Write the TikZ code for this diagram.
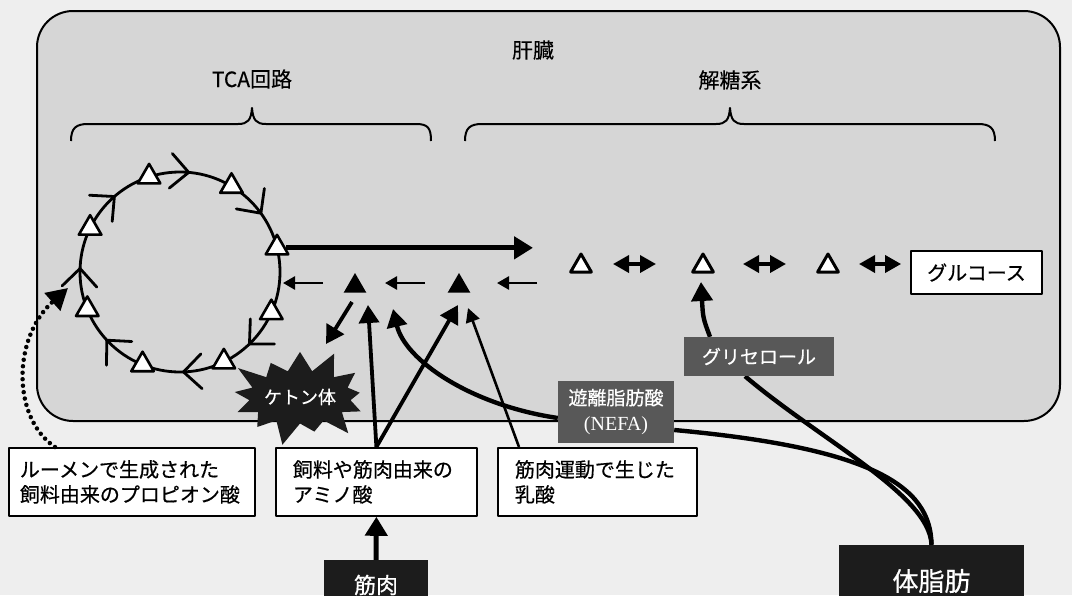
\documentclass[tikz,border=0pt]{standalone}
\usepackage{fontspec}
\setmainfont{Liberation Serif}
\newfontfamily\cjk[FakeBold=0.6]{Noto Sans CJK JP}
\newfontfamily\cjkl[FakeBold=0.3]{Noto Sans CJK JP}
\usetikzlibrary{arrows.meta,shapes.geometric,shapes.symbols,calc}
\pgfdeclarelayer{back}
\pgfdeclarelayer{mid}
\pgfsetlayers{back,mid,main}
\definecolor{paper}{RGB}{238,238,238}
\definecolor{liver}{RGB}{214,214,214}
\definecolor{midgray}{RGB}{88,88,88}
\definecolor{dark}{RGB}{28,28,28}
\begin{document}
\begin{tikzpicture}[x=1pt,y=-1pt,line join=round,
  lbl/.style={font=\cjkl\fontsize{21}{21}\selectfont,inner sep=0pt},
  wtri/.style={regular polygon,regular polygon sides=3,draw=black,fill=white,line width=2.6pt,inner sep=0pt,minimum size=26pt},
  gtri/.style={regular polygon,regular polygon sides=3,draw=black,fill=white,line width=3pt,inner sep=0pt,minimum size=24pt},
  btri/.style={regular polygon,regular polygon sides=3,fill=black,inner sep=0pt,minimum size=26pt},
  box/.style={draw=black,line width=1.8pt,fill=white,inner ysep=0pt,align=left,minimum height=68pt,font=\cjk\fontsize{20}{25}\selectfont,anchor=north west},
  darkbox/.style={fill=dark,text=white,inner sep=0pt},
  graybox/.style={fill=midgray,text=white,inner sep=0pt},
  thinarr/.style={line width=2.6pt,-{Triangle[length=12pt,width=13pt]}},
  medarr/.style={line width=3.8pt,-{Triangle[length=18pt,width=20pt]}},
  thickarr/.style={line width=5pt,-{Triangle[length=19pt,width=22pt]}},
  dblarr/.style={line width=3.6pt,{Triangle[length=16pt,width=17pt]}-{Triangle[length=16pt,width=17pt]}},
  bracepath/.style={line width=2pt},
  curvearr/.style={line width=4.4pt},
  chev/.style={line width=2.8pt,line cap=round}
]
\useasboundingbox (0,0) rectangle (1072,595);
\begin{pgfonlayer}{back}
\fill[paper] (0,0) rectangle (1072,595);
\draw[line width=2pt,fill=liver,rounded corners=36pt] (37,11) rectangle (1060,421);
\end{pgfonlayer}

% labels
\node[lbl] (liverlbl) at (533,50) {肝臓};
\node[lbl] (tcalbl) at (252,79) {TCA回路};
\node[lbl] (glylbl) at (730,80) {解糖系};

% braces
\draw[bracepath] (71,141) .. controls (71,128) and (76,124) .. (88,124) -- (238,124)
  .. controls (248,124) and (251,120) .. (252,108) .. controls (253,120) and (256,124) .. (266,124)
  -- (416,124) .. controls (428,124) and (431,128) .. (431,141);
\draw[bracepath] (465,141) .. controls (465,128) and (470,124) .. (482,124) -- (716,124)
  .. controls (726,124) and (729,120) .. (730,108) .. controls (731,120) and (734,124) .. (744,124)
  -- (978,124) .. controls (990,124) and (995,128) .. (995,141);

% TCA cycle
\coordinate (c) at (180,272);
\draw[line width=2.8pt] (c) circle[radius=100];
\foreach \a [count=\i] in {108,59,14,-24,-64,-112,-158,154}
  \node[wtri] (t\i) at ($(c)+(-\a:100)$) {};
\foreach \a in {85,36,-46,-88,-137,178,131}
  \draw[chev] ($(c)+(-\a:100)$) ++(-\a-90+44:25) -- ($(c)+(-\a:100)$) -- ++(-\a-90-44:25);

% glycolysis row
\node[gtri] (g1) at (581,266) {};
\node[gtri] (g2) at (703,266) {};
\node[gtri] (g3) at (828,266) {};
\node[draw=black,line width=1.8pt,fill=white,minimum width=131pt,minimum height=43pt,inner sep=0pt,font=\cjk\fontsize{20}{20}\selectfont] (glc) at (976.5,272.5) {グルコース};
\draw[dblarr] ($(g1)+(32,-2)$) -- ($(g2)+(-47,-2)$);
\draw[dblarr] ($(g2)+(40,-2)$) -- ($(g3)+(-42,-2)$);
\draw[dblarr] ($(g3)+(31,-2)$) -- ($(glc.west)+(-9,-8.5)$);

% TCA -> glycolysis
\coordinate (tcaend) at (533,0);
\draw[thickarr] (t3.east) -- (t3.east -| tcaend);

% black triangles and left arrows
\node[btri] (b1) at (355,286) {};
\node[btri] (b2) at (459,286) {};
\coordinate (a1s) at (323,283); \coordinate (a1e) at (283,283);
\coordinate (a2s) at (425,283); \coordinate (a2e) at (385,283);
\coordinate (a3s) at (537,283); \coordinate (a3e) at (497,283);
\draw[thinarr] (a1s) -- (a1e);
\draw[thinarr] (a2s) -- (a2e);
\draw[thinarr] (a3s) -- (a3e);

% boxes
\node[box,inner xsep=11pt,text width=224pt] (prop) at (8,447) {ルーメンで生成された\\飼料由来のプロピオン酸};
\node[box,inner xsep=17pt,text width=167pt] (amino) at (275,447) {飼料や筋肉由来の\\アミノ酸};
\node[box,inner xsep=17pt,text width=165pt] (lact) at (497,447) {筋肉運動で生じた\\乳酸};

\node[darkbox,minimum width=104pt,minimum height=50pt,font=\cjk\fontsize{22}{22}\selectfont] (muscle) at (376,585) {筋肉};
\node[darkbox,minimum width=185pt,minimum height=72pt,font=\cjk\fontsize{26}{26}\selectfont] (fat) at (931.5,581) {体脂肪};
\node[graybox,minimum width=150pt,minimum height=39pt,font=\cjk\fontsize{19}{19}\selectfont] (glyc) at (759,356.5) {グリセロール};
\node[graybox,minimum width=116pt,minimum height=62pt,align=center,font=\cjk\fontsize{19}{26}\selectfont] (nefa) at (616,412) {遊離脂肪酸\\{\rmfamily\fontsize{20}{26}\selectfont (NEFA)}};

% ketone bodies
\node[starburst,fill=dark,text=white,starburst points=13,starburst point height=26pt,inner sep=0pt,minimum width=145pt,minimum height=105pt,font=\cjk\fontsize{18}{18}\selectfont] (ket) at (300,397) {ケトン体};

% arrows from amino acids etc.
\coordinate (b1out) at (352,302); \coordinate (ketin) at (326,344);
\draw[medarr] (b1out) -- (ketin);
\draw[thickarr] (muscle.north) -- (amino.south);
\coordinate (amA) at (368,305);
\coordinate (amB) at (458,305);
\draw[medarr] (amino.north) -- (amA);
\draw[medarr] (amino.north) -- (amB);
\coordinate (lacs) at ($(lact.north west)+(22,0)$);
\coordinate (lace) at (468,308);
\draw[thinarr,-{Triangle[length=14pt,width=14pt]}] (lacs) -- (lace);

% dotted propionate arrow
\coordinate (pst) at ($(prop.north west)+(47,0)$);
\coordinate (pend) at (68,288);
\draw[line width=4.5pt,line cap=round,dash pattern=on 0pt off 6.5pt,-{Triangle[length=21pt,width=23pt]}]
  (pst) .. controls (12,418) and (12,338) .. (pend);

% curves from body fat
\begin{pgfonlayer}{mid}
\coordinate (nefaE) at ($(nefa.east)+(0,18)$);
\coordinate (nefaW) at ($(nefa.west)+(0,6)$);
\coordinate (nefaT) at (393,309);
\coordinate (glycB) at ($(glyc.south)+(-14,0)$);
\coordinate (glycT) at ($(glyc.north)+(-49,0)$);
\coordinate (glycTip) at (701,282);
\draw[curvearr] (fat.north) .. controls (931,485) and (870,448) .. (nefaE);
\draw[curvearr] (fat.north) .. controls (930,495) and (820,440) .. (glycB);
\draw[curvearr,-{Triangle[length=18pt,width=20pt]}] (nefaW) .. controls (470,405) and (405,360) .. (nefaT);
\draw[curvearr,-{Triangle[length=19pt,width=21pt]}] (glycT) .. controls (703,318) .. (glycTip);
\end{pgfonlayer}
\end{tikzpicture}
\end{document}
